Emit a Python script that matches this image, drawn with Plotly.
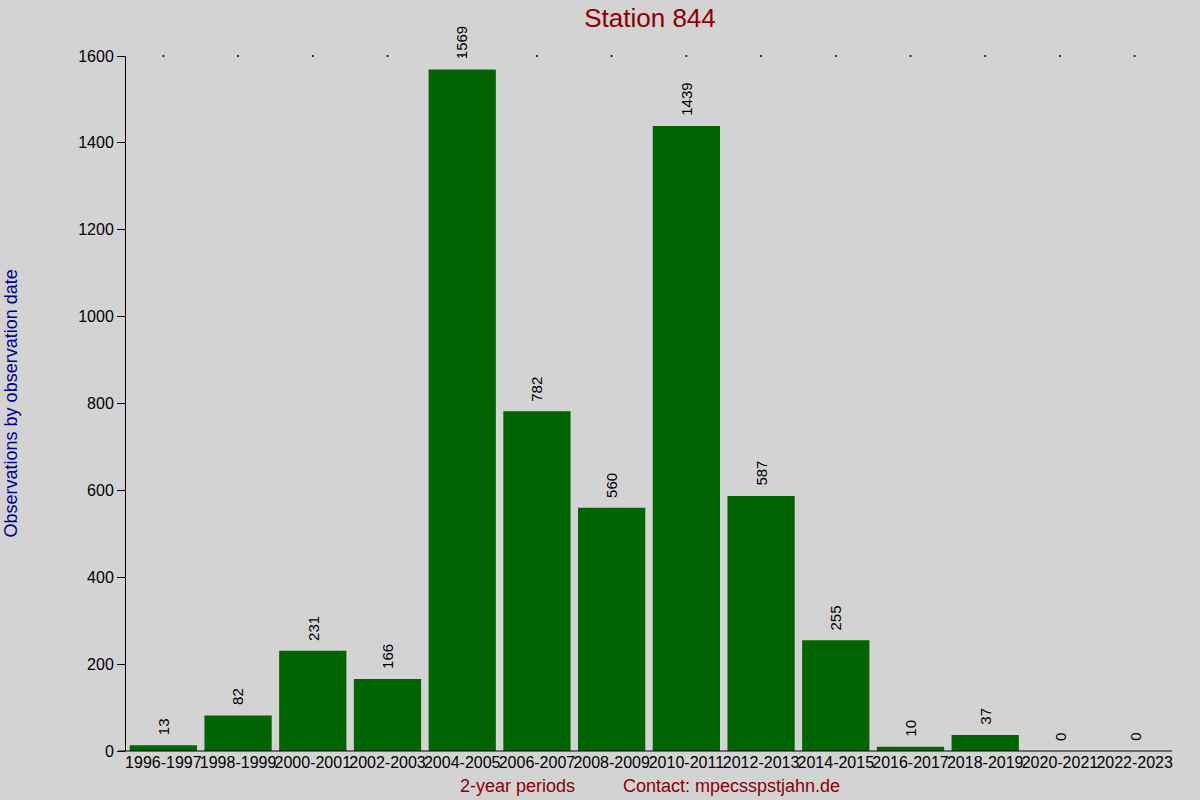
import plotly.graph_objects as go

periods = ["1996-1997", "1998-1999", "2000-2001", "2002-2003", "2004-2005",
           "2006-2007", "2008-2009", "2010-2011", "2012-2013", "2014-2015",
           "2016-2017", "2018-2019", "2020-2021", "2022-2023"]
observations = [13, 82, 231, 166, 1569, 782, 560, 1439, 587, 255, 10, 37, 0, 0]
y_ticks = [0, 200, 400, 600, 800, 1000, 1200, 1400, 1600]

FONT = "Liberation Sans, Arial, sans-serif"

fig = go.Figure()
fig.add_trace(go.Bar(
    x=periods, y=observations,
    marker=dict(color="#006400", line=dict(width=0)),
    hoverinfo="x+y",
))
# small dots along the top of the plot at each category
fig.add_trace(go.Scatter(
    x=periods, y=[y_ticks[-1]] * len(periods), mode="markers",
    marker=dict(size=2, color="black"), cliponaxis=False, hoverinfo="skip",
))

annotations = []
for p, v in zip(periods, observations):
    annotations.append(dict(
        x=p, y=v, xref="x", yref="y", text=str(v), textangle=-90,
        showarrow=False, xanchor="center", yanchor="bottom", yshift=8,
        font=dict(family=FONT, size=15, color="black"),
    ))

annotations += [
    dict(text="Observations by observation date", xref="paper", yref="paper",
         x=-0.110, y=0.5, xanchor="center", yanchor="middle", textangle=-90,
         showarrow=False, font=dict(family=FONT, size=18, color="#00008B")),
    dict(text="2-year periods", xref="paper", yref="paper", x=0.374, y=-0.050,
         xanchor="center", yanchor="middle", showarrow=False,
         font=dict(family=FONT, size=18, color="#8B0000")),
    dict(text="Contact: mpecsspstjahn.de", xref="paper", yref="paper", x=0.579, y=-0.050,
         xanchor="center", yanchor="middle", showarrow=False,
         font=dict(family=FONT, size=18, color="#8B0000")),
]

fig.update_layout(
    width=1200, height=800,
    paper_bgcolor="#D3D3D3", plot_bgcolor="#D3D3D3",
    margin=dict(l=126, r=28, t=56, b=49),
    bargap=0.1,
    showlegend=False,
    title=dict(text="Station 844", x=650 / 1200, xanchor="center", y=1 - 18 / 800,
               yanchor="middle", font=dict(family=FONT, size=26, color="#8B0000")),
    font=dict(family=FONT, size=16, color="black"),
    xaxis=dict(showline=False, ticks="", tickangle=0, range=[-0.5, len(periods) - 0.5],
               tickfont=dict(size=16, color="black"),
               showgrid=False, zeroline=False),
    yaxis=dict(range=[0, 1600], tickvals=y_ticks, showline=True, linecolor="black",
               linewidth=1, ticks="outside", ticklen=8, tickcolor="black",
               showgrid=False, zeroline=False, tickfont=dict(size=16, color="black")),
    shapes=[dict(type="line", xref="paper", yref="paper", x0=-8 / 1046, x1=1,
                 y0=0, y1=0, line=dict(color="black", width=1))],
    annotations=annotations,
)

fig.write_html(
    "out.html",
    config={"displayModeBar": False},
    post_script="document.body.style.margin='0';document.body.style.background='#D3D3D3';",
)
